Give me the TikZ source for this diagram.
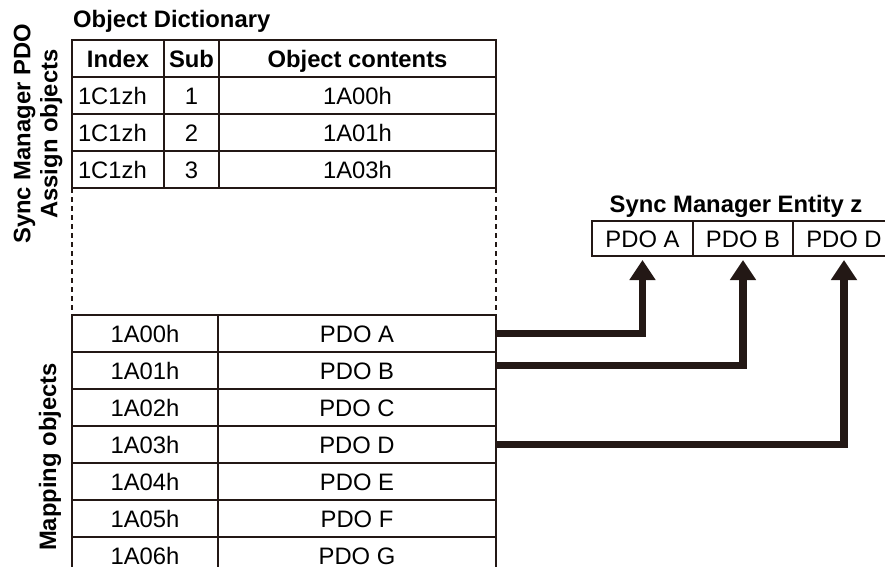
\documentclass[tikz,border=0pt]{standalone}
\usepackage{fontspec}
\setmainfont{Liberation Sans}
\usetikzlibrary{arrows.meta,positioning}
\definecolor{linedark}{RGB}{35,24,21}

\begin{document}
\begin{tikzpicture}[x=1pt, y=-1pt,
    cell/.style={draw=linedark, line width=2pt, inner sep=0pt, outer sep=0pt,
      anchor=north west, minimum height=37pt, text height=17pt, text depth=0pt,
      font=\fontsize{23.8}{27}\selectfont},
    headcell/.style={cell, font=\fontsize{23.8}{27}\selectfont\bfseries},
    idxcell/.style={cell, text width=80pt, inner xsep=6pt, align=left},
    smcell/.style={cell, minimum height=35pt},
    title/.style={inner sep=0pt, font=\fontsize{23.8}{27}\selectfont\bfseries},
    sidetitle/.style={title, rotate=90, align=center},
    dashline/.style={draw=linedark, line width=2pt, dash pattern=on 5pt off 4pt},
    conn/.style={draw=linedark, line width=7.5pt, shorten >=4pt,
      -{Triangle[length=20pt,width=25pt]}}]
    \useasboundingbox (0,0) rectangle (885,566);

    % object dictionary, assign part
    \node[title, anchor=base west] (odTitle) at (73,27) {Object Dictionary};
    \node[headcell, minimum width=92pt]  (hIdx) at (72,40)  {Index};
    \node[headcell, minimum width=55pt]  (hSub) at (164,40) {Sub};
    \node[headcell, minimum width=277pt] (hObj) at (219,40) {Object contents};
    \foreach \nm/\obj [count=\rw] in {1/1A00h, 2/1A01h, 3/1A03h} {
      \node[idxcell] (idx\rw) at (72,40+37*\rw) {1C1zh};
      \node[cell, minimum width=55pt]  (sub\rw) at (164,40+37*\rw) {\nm};
      \node[cell, minimum width=277pt] (obj\rw) at (219,40+37*\rw) {\obj};
    }

    % mapping objects
    \foreach \nm [count=\rw from 0] in {A,B,C,D,E,F,G} {
      \node[cell, minimum width=146pt] (map\rw) at (72,315+37*\rw)  {1A0\rw h};
      \node[cell, minimum width=278pt] (pdo\rw) at (218,315+37*\rw) {PDO \nm};
    }
    \draw[dashline] (idx3.south west) -- (map0.north west);
    \draw[dashline] (obj3.south east) -- (pdo0.north east);

    % side labels
    \node[sidetitle] (asgLabel) at (38,134) {Sync Manager PDO\\Assign objects};
    \node[sidetitle] (mapLabel) at (50,457) {Mapping objects};

    % sync manager entity
    \node[title, anchor=base] (smTitle) at (736,212) {Sync Manager Entity z};
    \node[smcell, minimum width=101pt] (smA) at (592,221) {PDO A};
    \node[smcell, minimum width=100pt] (smB) at (693,221) {PDO B};
    \node[smcell, minimum width=102pt] (smD) at (793,221) {PDO D};

    % assignments
    \draw[conn] (pdo0.east) -| (smA.south);
    \draw[conn] ([yshift=5pt]pdo1.east) -| (smB.south);
    \draw[conn] (pdo3.east) -| (smD.south);
\end{tikzpicture}
\end{document}
